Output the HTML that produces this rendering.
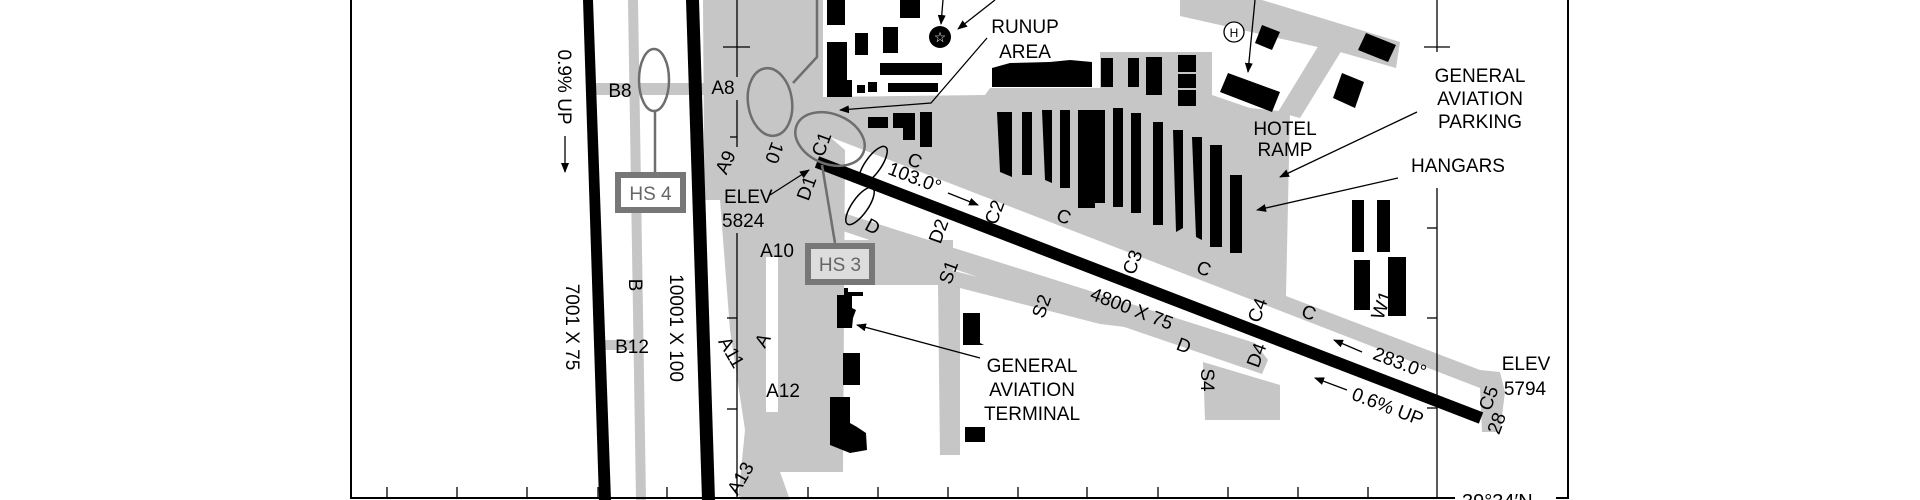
<!DOCTYPE html>
<html><head><meta charset="utf-8"><style>
html,body{margin:0;padding:0;background:#fff;}
svg{display:block;}
text{font-family:"Liberation Sans",sans-serif;font-size:19px;fill:#000;}
.g{fill:#c6c6c6;}
.b{fill:#000;}
.hs{fill:none;stroke:#6e6e6e;stroke-width:2.5;}
.ln{stroke:#000;stroke-width:1.3;fill:none;}
</style></head><body>
<svg width="1920" height="500" viewBox="0 0 1920 500" xmlns="http://www.w3.org/2000/svg">
<defs>
<marker id="ah" markerWidth="10" markerHeight="8" refX="9" refY="4" orient="auto" markerUnits="userSpaceOnUse">
<path d="M0,0 L10,4 L0,8 z" fill="#000"/></marker>
</defs>

<polygon class="g" points="628,0 638,0 646,500 636,500"/>
<rect class="g" x="593" y="83" width="150" height="12"/>
<rect class="g" x="600" y="340" width="42" height="10"/>
<polygon class="g" points="703,0 823,0 823,97 985,95 990,88 1100,88 1100,52 1212,52 1212,95 1250,108 1290,112 1286,296 1480,370 1500,372 1505,392 1500,432 1482,432 1480,388 830,137 845,150 843,472 780,472 790,500 740,500 722,420 708,300 704,150"/>
<polygon class="g" points="790,130 830,137 845,180 800,215 780,200"/>
<polygon class="g" points="800,205 840,212 1255,343 1268,360 1262,374 840,230 800,228"/>
<polygon class="g" points="840,242 1100,308 1150,330 1100,324 960,288 960,455 940,455 938,285 843,262"/>
<rect class="g" x="843" y="240" width="110" height="45"/>
<polygon class="g" points="1203,362 1280,385 1280,420 1205,420"/>
<polygon class="g" points="1180,0 1262,0 1400,42 1396,68 1340,52 1180,16"/>
<polygon class="g" points="1322,40 1345,45 1300,118 1278,112"/>
<rect x="766" y="257" width="12" height="155" fill="#fff"/>
<polygon points="705,200 720,200 730,330 745,430 738,500 705,500" fill="#fff"/>
<polygon points="828,0 955,0 955,95 828,97" fill="#fff"/>

<polygon class="b" points="583,0 593,0 611,500 599,500"/>
<polygon class="b" points="686,0 699,0 715,500 702,500"/>
<line x1="817" y1="162" x2="1481" y2="418" stroke="#000" stroke-width="12"/>

<g class="b">
<rect x="827" y="0" width="18" height="25"/>
<rect x="900" y="0" width="20" height="18"/>
<rect x="855" y="33" width="13" height="22"/>
<rect x="883" y="27" width="15" height="26"/>
<polygon points="827,42 847,42 847,80 852,80 852,97 827,97"/>
<rect x="857" y="85" width="8" height="8"/>
<rect x="868" y="82" width="9" height="10"/>
<rect x="880" y="63" width="62" height="12"/>
<rect x="888" y="83" width="50" height="9"/>
<rect x="868" y="117" width="20" height="11"/>
<polygon points="893,113 915,113 915,140 903,140 903,128 893,128"/>
<rect x="920" y="112" width="12" height="35"/>
<polygon points="992,68 1010,63 1050,62 1070,60 1092,62 1092,87 992,87"/>
<rect x="1101" y="58" width="12" height="29"/>
<rect x="1128" y="58" width="11" height="29"/>
<rect x="1146" y="57" width="16" height="38"/>
<rect x="1178" y="55" width="18" height="17"/>
<rect x="1178" y="74" width="18" height="14"/>
<rect x="1178" y="90" width="18" height="16"/>
<polygon points="1228,73 1280,92 1272,112 1220,92"/>
<polygon points="1262,25 1280,32 1272,50 1255,43"/>
<polygon points="1366,33 1396,45 1388,62 1358,50"/>
<polygon points="1342,73 1364,82 1355,108 1333,98"/>
<polygon points="997,112 1012,112 1012,177 1000,172"/>
<rect x="1022" y="112" width="10" height="63"/>
<polygon points="1042,110 1052,110 1052,183 1045,180"/>
<rect x="1060" y="110" width="10" height="78"/>
<rect x="1078" y="110" width="17" height="98"/>
<rect x="1095" y="110" width="10" height="93"/>
<rect x="1113" y="108" width="10" height="99"/>
<rect x="1131" y="113" width="10" height="100"/>
<rect x="1153" y="122" width="10" height="103"/>
<polygon points="1173,130 1183,130 1183,228 1176,232"/>
<polygon points="1192,137 1202,137 1202,240 1196,237"/>
<rect x="1210" y="145" width="12" height="102"/>
<rect x="1230" y="175" width="12" height="78"/>
<rect x="1352" y="200" width="12" height="52"/>
<rect x="1377" y="200" width="13" height="52"/>
<rect x="1354" y="260" width="16" height="50"/>
<rect x="1388" y="257" width="18" height="59"/>
<polygon points="837,295 844,295 844,288 848,288 848,292 863,292 863,296 852,296 852,308 856,310 853,318 852,328 837,328"/>
<rect x="843" y="353" width="17" height="32"/>
<polygon points="830,397 850,397 850,423 857,427 866,433 867,450 850,453 830,445"/>
<rect x="965" y="427" width="20" height="15"/>
<polygon points="963,313 980,313 980,343 984,345 963,345"/>
</g>

<ellipse class="hs" cx="654" cy="80" rx="15" ry="31"/>
<line class="hs" x1="655" y1="111" x2="655" y2="172"/>
<rect x="618" y="175" width="65" height="35" fill="#fff" stroke="#777" stroke-width="6"/>
<text x="650.5" y="200" text-anchor="middle" style="fill:#666">HS 4</text>
<ellipse class="hs" cx="770" cy="102" rx="22" ry="34" transform="rotate(-8 770 102)"/>
<polyline class="hs" points="793,83 817,57 817,0"/>
<ellipse class="hs" cx="830" cy="139" rx="36" ry="25" transform="rotate(22 830 139)"/>
<line class="hs" x1="822" y1="165" x2="835" y2="243"/>
<rect x="808" y="246" width="64" height="36" fill="#ddd" stroke="#777" stroke-width="6"/>
<text x="840" y="271" text-anchor="middle" style="fill:#666">HS 3</text>
<g fill="none" stroke="#000" stroke-width="1.5">
<ellipse cx="873" cy="165" rx="8" ry="22" transform="rotate(35 873 165)"/>
<ellipse cx="860" cy="206" rx="8" ry="22" transform="rotate(35 860 206)"/>
</g>

<g stroke="#000" stroke-width="2" fill="none">
<line x1="351" y1="0" x2="351" y2="499"/>
<line x1="350" y1="498" x2="1455" y2="498"/>
<line x1="1556" y1="498" x2="1569" y2="498"/>
<line x1="1568" y1="0" x2="1568" y2="499"/>
</g>
<g stroke="#000" stroke-width="1.3">
<line x1="387" y1="487" x2="387" y2="498"/><line x1="457" y1="487" x2="457" y2="498"/>
<line x1="527" y1="487" x2="527" y2="498"/><line x1="598" y1="487" x2="598" y2="498"/>
<line x1="667" y1="487" x2="667" y2="498"/><line x1="808" y1="487" x2="808" y2="498"/>
<line x1="878" y1="487" x2="878" y2="498"/><line x1="948" y1="487" x2="948" y2="498"/>
<line x1="1018" y1="487" x2="1018" y2="498"/><line x1="1087" y1="487" x2="1087" y2="498"/>
<line x1="1158" y1="487" x2="1158" y2="498"/><line x1="1228" y1="487" x2="1228" y2="498"/>
<line x1="1298" y1="487" x2="1298" y2="498"/><line x1="1368" y1="487" x2="1368" y2="498"/>
<line x1="737" y1="0" x2="737" y2="77"/><line x1="737" y1="100" x2="737" y2="147"/><line x1="737" y1="233" x2="737" y2="498"/>
<line x1="723" y1="47" x2="750" y2="47"/><line x1="730" y1="137" x2="737" y2="137"/>
<line x1="727" y1="318" x2="737" y2="318"/><line x1="727" y1="409" x2="737" y2="409"/>
<line x1="1437" y1="0" x2="1437" y2="52"/><line x1="1437" y1="188" x2="1437" y2="498"/>
<line x1="1424" y1="47" x2="1450" y2="47"/><line x1="1427" y1="228" x2="1437" y2="228"/>
<line x1="1427" y1="318" x2="1437" y2="318"/><line x1="1427" y1="408" x2="1437" y2="408"/>
</g>
<text x="1462" y="508" style="font-size:20px">39°34′N</text>

<g class="ln">
<line x1="565" y1="136" x2="565" y2="172" marker-end="url(#ah)"/>
<line x1="770" y1="195" x2="809" y2="170" marker-end="url(#ah)"/>
<polyline points="987,38 931,103 840,110" marker-end="url(#ah)"/>
<line x1="943" y1="0" x2="941" y2="24" marker-end="url(#ah)"/>
<line x1="995" y1="0" x2="958" y2="29" marker-end="url(#ah)"/>
<line x1="1255" y1="0" x2="1248" y2="72" marker-end="url(#ah)"/>
<line x1="1417" y1="112" x2="1280" y2="177" marker-end="url(#ah)"/>
<line x1="1398" y1="178" x2="1257" y2="210" marker-end="url(#ah)"/>
<line x1="980" y1="358" x2="857" y2="325" marker-end="url(#ah)"/>
<line x1="948" y1="193" x2="978" y2="205" marker-end="url(#ah)"/>
<line x1="1362" y1="352" x2="1334" y2="340" marker-end="url(#ah)"/>
<line x1="1347" y1="390" x2="1315" y2="378" marker-end="url(#ah)"/>
</g>
<circle cx="940" cy="37" r="11" fill="#000"/>
<text x="940" y="42" text-anchor="middle" style="fill:#fff;font-size:14px">☆</text>
<circle cx="1234" cy="32" r="10" fill="#fff" stroke="#000" stroke-width="1.3"/>
<text x="1234" y="37" text-anchor="middle" style="font-size:12px">H</text>

<text transform="translate(565,87) rotate(90)" text-anchor="middle" dy="7">0.9% UP</text>
<text transform="translate(573,327) rotate(90)" text-anchor="middle" dy="7">7001 X 75</text>
<text transform="translate(677,328) rotate(90)" text-anchor="middle" dy="7">10001 X 100</text>
<text transform="translate(636,285) rotate(90)" text-anchor="middle" dy="7">B</text>
<text x="620" y="97" text-anchor="middle">B8</text>
<text x="632" y="353" text-anchor="middle">B12</text>
<text x="723" y="94" text-anchor="middle">A8</text>
<text transform="translate(725,162) rotate(-65)" text-anchor="middle" dy="7">A9</text>
<text x="724" y="203">ELEV</text>
<text x="722" y="227">5824</text>
<text transform="translate(775,153) rotate(110)" text-anchor="middle" dy="7">10</text>
<text transform="translate(821,144) rotate(-70)" text-anchor="middle" dy="7">C1</text>
<text transform="translate(806,188) rotate(-70)" text-anchor="middle" dy="7">D1</text>
<text transform="translate(873,226) rotate(28)" text-anchor="middle" dy="7">D</text>
<text x="777" y="257" text-anchor="middle">A10</text>
<text transform="translate(762,340) rotate(-60)" text-anchor="middle" dy="7">A</text>
<text transform="translate(732,352) rotate(60)" text-anchor="middle" dy="7">A11</text>
<text x="783" y="397" text-anchor="middle">A12</text>
<text transform="translate(740,478) rotate(-60)" text-anchor="middle" dy="7">A13</text>
<text x="1025" y="33" text-anchor="middle">RUNUP</text>
<text x="1025" y="58" text-anchor="middle">AREA</text>
<text x="1285" y="135" text-anchor="middle">HOTEL</text>
<text x="1285" y="156" text-anchor="middle">RAMP</text>
<text x="1480" y="82" text-anchor="middle">GENERAL</text>
<text x="1480" y="105" text-anchor="middle">AVIATION</text>
<text x="1480" y="128" text-anchor="middle">PARKING</text>
<text x="1458" y="172" text-anchor="middle">HANGARS</text>
<text x="1032" y="372" text-anchor="middle">GENERAL</text>
<text x="1032" y="396" text-anchor="middle">AVIATION</text>
<text x="1032" y="420" text-anchor="middle">TERMINAL</text>
<text x="1526" y="370" text-anchor="middle">ELEV</text>
<text x="1525" y="395" text-anchor="middle">5794</text>
<text transform="translate(915,177) rotate(21)" text-anchor="middle" dy="7">103.0°</text>
<text transform="translate(1400,362) rotate(21)" text-anchor="middle" dy="7">283.0°</text>
<text transform="translate(1388,406) rotate(21)" text-anchor="middle" dy="7">0.6% UP</text>
<text transform="translate(1132,308) rotate(21)" text-anchor="middle" dy="7">4800 X 75</text>
<text transform="translate(915,160) rotate(21)" text-anchor="middle" dy="7">C</text>
<text transform="translate(1064,216) rotate(21)" text-anchor="middle" dy="7">C</text>
<text transform="translate(1204,268) rotate(21)" text-anchor="middle" dy="7">C</text>
<text transform="translate(1309,312) rotate(21)" text-anchor="middle" dy="7">C</text>
<text transform="translate(1184,345) rotate(21)" text-anchor="middle" dy="7">D</text>
<text transform="translate(994,212) rotate(-70)" text-anchor="middle" dy="7">C2</text>
<text transform="translate(938,231) rotate(-70)" text-anchor="middle" dy="7">D2</text>
<text transform="translate(948,272) rotate(-70)" text-anchor="middle" dy="7">S1</text>
<text transform="translate(1041,306) rotate(-70)" text-anchor="middle" dy="7">S2</text>
<text transform="translate(1132,262) rotate(-70)" text-anchor="middle" dy="7">C3</text>
<text transform="translate(1257,310) rotate(-70)" text-anchor="middle" dy="7">C4</text>
<text transform="translate(1256,355) rotate(-70)" text-anchor="middle" dy="7">D4</text>
<text transform="translate(1208,380) rotate(90)" text-anchor="middle" dy="7">S4</text>
<text transform="translate(1381,305) rotate(-70)" text-anchor="middle" dy="7">W1</text>
<text transform="translate(1488,398) rotate(-70)" text-anchor="middle" dy="7">C5</text>
<text transform="translate(1496,423) rotate(-70)" text-anchor="middle" dy="7">28</text>
</svg>
</body></html>
